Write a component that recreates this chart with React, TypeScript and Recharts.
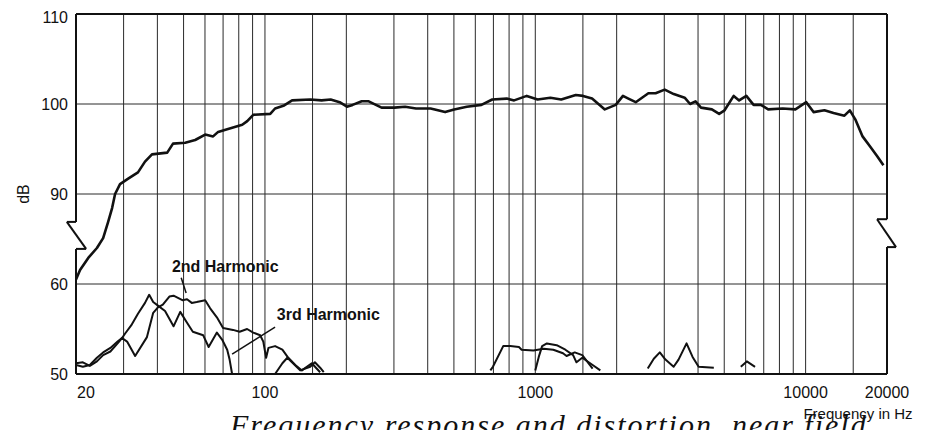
import { LineChart, Line, XAxis, YAxis, ReferenceLine, ReferenceDot } from "recharts";

// page is exactly the chart, no scrollbars
document.documentElement.style.overflow = "hidden";

const xTicks = [20, 100, 1000, 10000, 20000];
const gridFreqs = [
  30, 40, 50, 60, 70, 80, 90, 100, 150, 200, 300, 400, 500, 600, 700, 800, 900,
  1000, 1500, 2000, 3000, 4000, 5000, 6000, 7000, 8000, 9000, 10000, 15000,
];
const dbTicks = [50, 60, 90, 100, 110];
const pctTicks = [".3%", "1%"];

// [Hz, dB]
const mainResponse: [number, number][] = [
  [20, 61.5], [20.7, 64.7], [22.2, 68.7], [23.9, 72], [25.2, 75.3], [26.3, 80.7],
  [27.2, 85.3], [27.9, 90], [29.1, 91.1], [31.2, 91.7], [33.9, 92.4], [36, 93.6],
  [38.2, 94.4], [43.5, 94.6], [45.7, 95.6], [50.7, 95.7], [55.2, 96], [60.1, 96.6],
  [64.3, 96.4], [67.1, 96.9], [72.5, 97.2], [82.4, 97.7], [86, 98.1], [90.5, 98.8],
  [104.6, 98.9], [109, 99.5], [117, 99.8], [126, 100.4], [147, 100.5], [162, 100.4],
  [175, 100.5], [189, 100.2], [201, 99.7], [211, 99.9], [228, 100.3], [242, 100.3],
  [270, 99.6], [301, 99.6], [330, 99.7], [362, 99.5], [410, 99.5], [464, 99.1],
  [501, 99.4], [558, 99.7], [632, 99.9], [693, 100.5], [784, 100.6], [835, 100.4],
  [930, 100.9], [1020, 100.5], [1137, 100.7], [1247, 100.5], [1412, 101], [1502, 100.9],
  [1622, 100.6], [1808, 99.4], [1984, 99.9], [2110, 100.9], [2210, 100.6], [2352, 100.2],
  [2620, 101.2], [2787, 101.2], [3011, 101.6], [3253, 101.1], [3569, 100.7], [3738, 100],
  [3915, 100.3], [4101, 99.6], [4500, 99.4], [4788, 98.9], [5014, 99.3], [5419, 100.9],
  [5676, 100.4], [6036, 100.9], [6421, 99.9], [6832, 99.9], [7270, 99.4], [8226, 99.5],
  [9166, 99.4], [10055, 100.2], [10697, 99.1], [11738, 99.3], [12682, 99], [13914, 98.7],
  [14574, 99.3], [15264, 98.3], [16241, 96.4], [17400, 95.2], [18400, 94.2], [19400, 93.2],
];

const secondHarmonicLow: [number, number][] = [
  [20, 51], [21.2, 50.8], [22.5, 51], [23.9, 51.8], [25.2, 52.4], [26.8, 52.9],
  [28.5, 53.6], [29.6, 54], [30.9, 53.6], [33.1, 52], [36.6, 54.1], [38.6, 56.8],
  [40.2, 57.4], [41.9, 57.7], [44.3, 58.6], [45.9, 58.7], [49.5, 58.2], [51.5, 58.3],
  [53.6, 57.9], [55.9, 58], [60.1, 58.2], [62.7, 57.3], [66.4, 56.3], [70, 55.1],
  [76.2, 54.9], [80.6, 54.7], [85.9, 55], [90.5, 54.6], [96, 54.3], [98.6, 53.6],
  [101, 51.8], [103, 52.9], [109, 53.1], [116, 52.7], [122, 51.8], [129.5, 51],
  [137, 50.4], [149, 51.2], [160, 50.2],
];
const secondHarmonicMid: [number, number][] = [
  [682, 50.4], [697, 50.8], [761, 53.1], [808, 53.1], [870, 53], [890, 52.7],
  [984, 52.6], [1074, 52.8], [1166, 52.7], [1266, 52.3], [1305, 52], [1399, 52.4],
  [1492, 52.1], [1630, 50.6],
];
const secondHarmonicHigh: [number, number][] = [
  [2606, 50.6], [2744, 51.7], [2888, 52.4], [3030, 51.6], [3249, 50.8], [3388, 51.6],
  [3627, 53.4], [3818, 51.9], [4020, 50.8], [4575, 50.7],
];

const thirdHarmonicLow: [number, number][] = [
  [20, 51.2], [21.2, 51.3], [22.5, 50.9], [23.9, 51.4], [25.2, 52.1], [26.8, 52.5],
  [28.5, 53.4], [29.6, 54], [30.4, 54.5], [32, 55.4], [33.9, 56.7], [36, 57.9],
  [37.3, 58.8], [38.6, 58], [40.2, 57.6], [42.7, 57], [45.9, 55.3], [48.6, 56.9],
  [51.5, 55.7], [54.1, 54.7], [59.1, 54.3], [61.9, 53], [66.4, 54.6], [69.5, 53.8],
  [72.5, 52.7], [74, 51.6], [75.6, 50],
];
const thirdHarmonicBump: [number, number][] = [
  [109, 50], [116, 51.2], [121, 51.8], [127, 51.2], [135, 50.4], [147, 50.8],
  [153, 51.3], [160, 50.7], [165, 50.2],
];
const thirdHarmonicMid: [number, number][] = [
  [1000, 50.4], [1030, 51.9], [1060, 53.1], [1104, 53.4], [1200, 53.2], [1292, 52.7],
  [1380, 52.1], [1420, 51.3], [1492, 51.8], [1630, 51], [1740, 50.4],
];
const thirdHarmonicHigh: [number, number][] = [[5757, 50.8], [6061, 51.4], [6500, 50.8]];

// broken axis: 50-60 and 90-110 are linear, 60-90 is squeezed into one division
const toAxis = (db: number) => (db >= 90 ? db - 70 : db >= 60 ? 10 + (db - 60) / 3 : db - 50);
const toPoints = (pts: [number, number][]) => pts.map(([f, db]) => ({ f, y: toAxis(db) }));

const INK = "#111";
const GRID = "#2a2a2a";
const FONT = "'Liberation Sans', Arial, sans-serif";

const curves = [
  { data: mainResponse, w: 2.6 },
  { data: secondHarmonicLow, w: 2 },
  { data: secondHarmonicMid, w: 2 },
  { data: secondHarmonicHigh, w: 2 },
  { data: thirdHarmonicLow, w: 2 },
  { data: thirdHarmonicBump, w: 2 },
  { data: thirdHarmonicMid, w: 2 },
  { data: thirdHarmonicHigh, w: 2 },
];

// left / right frame with the axis-break notch
const leftFrame = [[20, 40], [20, 16.9], [18.5, 16.9], [21.8, 13.9], [20, 13.9], [20, 0]];
const rightFrame = [[20000, 40], [20000, 17.2], [18370, 17.2], [21600, 14.1], [20000, 14.1], [20000, 0]];

const label = (text: string) => (p: any) => (
  <text x={p.cx} y={p.cy} textAnchor="middle" dominantBaseline="central"
    fontFamily={FONT} fontWeight="bold" fontSize={16} fill={INK}>
    {text}
  </text>
);

export default function App() {
  return (
    <div style={{ position: "relative", width: 913, height: 422, overflow: "hidden", background: "#fff" }}>
      <LineChart width={913} height={414} margin={{ top: 6, right: 0, bottom: 18, left: 0 }}>
        <XAxis
          dataKey="f" type="number" scale="log" domain={[20, 20000]} ticks={xTicks}
          allowDataOverflow height={30} axisLine={false} tickLine={false} tickMargin={7}
          tick={({ x, y, payload }: any) => (
            <text x={x + (payload.value === 20 ? 10 : 0)} y={y} dy="0.71em" textAnchor="middle"
              fontFamily={FONT} fontSize={16} fill={INK}>
              {payload.value}
            </text>
          )}
          label={{
            content: ({ viewBox }: any) => (
              <text x={viewBox.x + viewBox.width - 29} y={viewBox.y + 39} textAnchor="middle"
                dominantBaseline="central" fontFamily={FONT} fontSize={15} fill={INK}>
                Frequency in Hz
              </text>
            ),
          }}
        />
        <YAxis
          yAxisId="db" type="number" domain={[0, 40]} ticks={dbTicks.map(toAxis)}
          tickFormatter={(v: number) => String(dbTicks.find((d) => toAxis(d) === v))}
          width={68} axisLine={false} tickLine={false}
          tick={{ fontSize: 16, fill: INK, fontFamily: FONT }}
          label={{
            content: ({ viewBox }: any) => {
              const cx = 15, cy = viewBox.y + viewBox.height / 2;
              return (
                <text x={cx} y={cy} transform={`rotate(-90 ${cx} ${cy})`} textAnchor="middle"
                  dominantBaseline="central" fontFamily={FONT} fontSize={16} fill={INK}>
                  dB
                </text>
              );
            },
          }}
        />
        <YAxis
          yAxisId="pct" orientation="right" type="number" domain={[0, 40]} ticks={[0, 10]}
          width={34} axisLine={false} tickLine={false}
          tick={({ x, y, payload }: any) => (
            <text x={x} y={y - (payload.value === 0 ? 6 : 2)} dominantBaseline="central"
              textAnchor="start" fontFamily={FONT} fontSize={16} fill={INK}>
              {pctTicks[payload.value === 0 ? 0 : 1]}
            </text>
          )}
        />

        {gridFreqs.map((f) => (
          <ReferenceLine key={f} x={f} yAxisId="db" stroke={GRID} strokeWidth={1} />
        ))}
        {[10, 20, 30].map((y) => (
          <ReferenceLine key={y} y={y} yAxisId="db" stroke={GRID} strokeWidth={1} />
        ))}
        <ReferenceLine y={40} yAxisId="db" stroke={INK} strokeWidth={2} />
        <ReferenceLine y={0} yAxisId="db" stroke={INK} strokeWidth={2} />
        {[leftFrame, rightFrame].map((pts, k) =>
          pts.slice(1).map((p, i) => (
            <ReferenceLine
              key={`${k}-${i}`} yAxisId="db" ifOverflow="visible" stroke={INK} strokeWidth={2}
              segment={[{ x: pts[i][0], y: pts[i][1] }, { x: p[0], y: p[1] }]}
            />
          ))
        )}

        {curves.map((c, i) => (
          <Line
            key={i} yAxisId="db" data={toPoints(c.data)} dataKey="y" type="linear"
            stroke={INK} strokeWidth={c.w} dot={false} activeDot={false}
            strokeLinejoin="round" isAnimationActive={false}
          />
        ))}

        {/* annotations */}
        <ReferenceLine yAxisId="db" stroke={INK} strokeWidth={1.5} segment={[{ x: 49, y: 10.7 }, { x: 51.1, y: 9 }]} />
        <ReferenceLine yAxisId="db" stroke={INK} strokeWidth={1.5} segment={[{ x: 109, y: 5.2 }, { x: 75.6, y: 2.2 }]} />
        <ReferenceDot yAxisId="db" x={71.3} y={11.9} r={0} shape={label("2nd Harmonic")} />
        <ReferenceDot yAxisId="db" x={171.6} y={6.6} r={0} shape={label("3rd Harmonic")} />
      </LineChart>
      <div
        style={{
          position: "absolute", left: 222, top: 400, whiteSpace: "nowrap",
          fontFamily: "'Liberation Serif', 'DejaVu Serif', serif", fontStyle: "italic",
          fontSize: 30, letterSpacing: 2, color: INK,
        }}
      >
        Frequency response and distortion, near field
      </div>
    </div>
  );
}
